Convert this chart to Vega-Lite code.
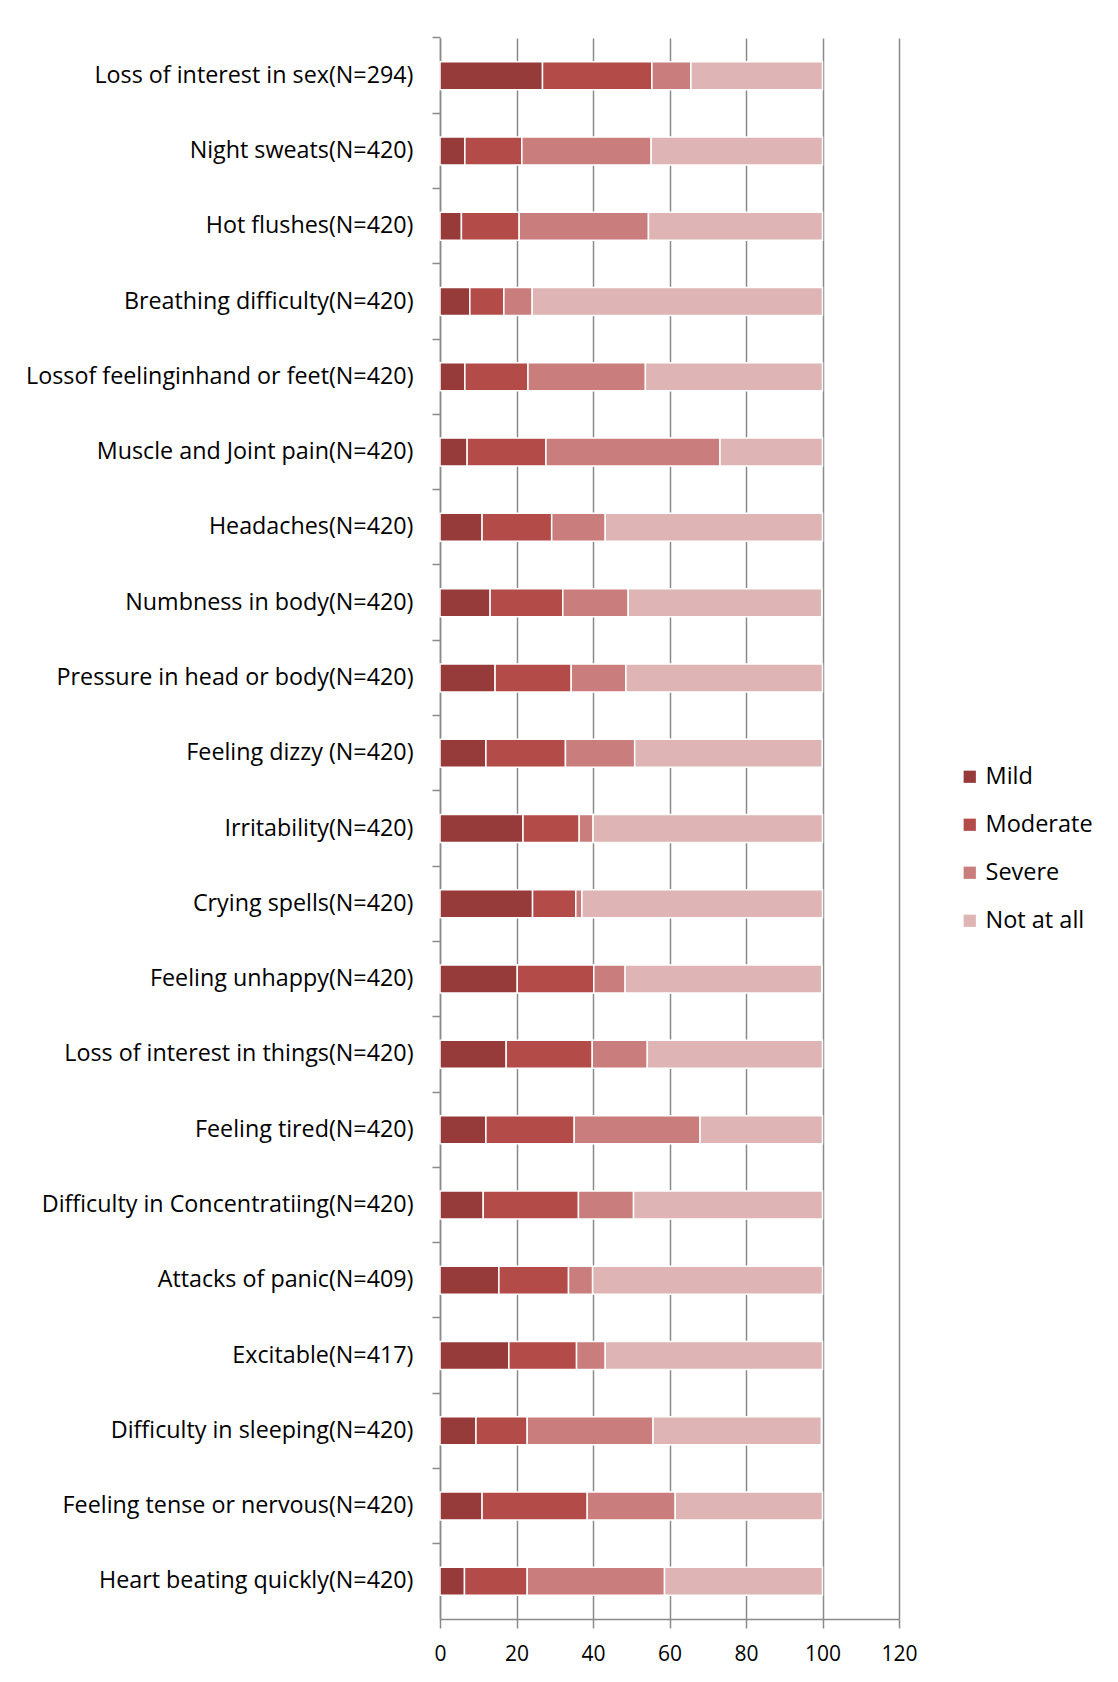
{
  "$schema": "https://vega.github.io/schema/vega-lite/v6.json",
  "autosize": {"type": "none"},
  "width": 459,
  "height": 1581,
  "padding": {"left": 440, "top": 38, "right": 219, "bottom": 63},
  "background": "white",
  "config": {
    "font": "Open Sans",
    "view": {"stroke": null},
    "axis": {"labelFont": "Open Sans", "labelColor": "#000000"}
  },
  "data": {
    "values": [
      {"s": "Loss of interest in sex(N=294)", "level": "Mild", "o": 1, "v": 26.8},
      {"s": "Loss of interest in sex(N=294)", "level": "Moderate", "o": 2, "v": 28.6},
      {"s": "Loss of interest in sex(N=294)", "level": "Severe", "o": 3, "v": 10.2},
      {"s": "Loss of interest in sex(N=294)", "level": "Not at all", "o": 4, "v": 34.4},
      {"s": "Night sweats(N=420)", "level": "Mild", "o": 1, "v": 6.5},
      {"s": "Night sweats(N=420)", "level": "Moderate", "o": 2, "v": 14.9},
      {"s": "Night sweats(N=420)", "level": "Severe", "o": 3, "v": 33.8},
      {"s": "Night sweats(N=420)", "level": "Not at all", "o": 4, "v": 44.8},
      {"s": "Hot flushes(N=420)", "level": "Mild", "o": 1, "v": 5.6},
      {"s": "Hot flushes(N=420)", "level": "Moderate", "o": 2, "v": 15.1},
      {"s": "Hot flushes(N=420)", "level": "Severe", "o": 3, "v": 33.8},
      {"s": "Hot flushes(N=420)", "level": "Not at all", "o": 4, "v": 45.5},
      {"s": "Breathing difficulty(N=420)", "level": "Mild", "o": 1, "v": 7.8},
      {"s": "Breathing difficulty(N=420)", "level": "Moderate", "o": 2, "v": 8.9},
      {"s": "Breathing difficulty(N=420)", "level": "Severe", "o": 3, "v": 7.4},
      {"s": "Breathing difficulty(N=420)", "level": "Not at all", "o": 4, "v": 75.9},
      {"s": "Lossof feelinginhand or feet(N=420)", "level": "Mild", "o": 1, "v": 6.5},
      {"s": "Lossof feelinginhand or feet(N=420)", "level": "Moderate", "o": 2, "v": 16.5},
      {"s": "Lossof feelinginhand or feet(N=420)", "level": "Severe", "o": 3, "v": 30.7},
      {"s": "Lossof feelinginhand or feet(N=420)", "level": "Not at all", "o": 4, "v": 46.3},
      {"s": "Muscle and Joint pain(N=420)", "level": "Mild", "o": 1, "v": 7.1},
      {"s": "Muscle and Joint pain(N=420)", "level": "Moderate", "o": 2, "v": 20.6},
      {"s": "Muscle and Joint pain(N=420)", "level": "Severe", "o": 3, "v": 45.5},
      {"s": "Muscle and Joint pain(N=420)", "level": "Not at all", "o": 4, "v": 26.8},
      {"s": "Headaches(N=420)", "level": "Mild", "o": 1, "v": 11.0},
      {"s": "Headaches(N=420)", "level": "Moderate", "o": 2, "v": 18.2},
      {"s": "Headaches(N=420)", "level": "Severe", "o": 3, "v": 14.0},
      {"s": "Headaches(N=420)", "level": "Not at all", "o": 4, "v": 56.8},
      {"s": "Numbness in body(N=420)", "level": "Mild", "o": 1, "v": 13.1},
      {"s": "Numbness in body(N=420)", "level": "Moderate", "o": 2, "v": 19.0},
      {"s": "Numbness in body(N=420)", "level": "Severe", "o": 3, "v": 17.1},
      {"s": "Numbness in body(N=420)", "level": "Not at all", "o": 4, "v": 50.6},
      {"s": "Pressure in head or body(N=420)", "level": "Mild", "o": 1, "v": 14.4},
      {"s": "Pressure in head or body(N=420)", "level": "Moderate", "o": 2, "v": 19.9},
      {"s": "Pressure in head or body(N=420)", "level": "Severe", "o": 3, "v": 14.3},
      {"s": "Pressure in head or body(N=420)", "level": "Not at all", "o": 4, "v": 51.4},
      {"s": "Feeling dizzy (N=420)", "level": "Mild", "o": 1, "v": 12.0},
      {"s": "Feeling dizzy (N=420)", "level": "Moderate", "o": 2, "v": 20.8},
      {"s": "Feeling dizzy (N=420)", "level": "Severe", "o": 3, "v": 18.1},
      {"s": "Feeling dizzy (N=420)", "level": "Not at all", "o": 4, "v": 49.0},
      {"s": "Irritability(N=420)", "level": "Mild", "o": 1, "v": 21.7},
      {"s": "Irritability(N=420)", "level": "Moderate", "o": 2, "v": 14.7},
      {"s": "Irritability(N=420)", "level": "Severe", "o": 3, "v": 3.6},
      {"s": "Irritability(N=420)", "level": "Not at all", "o": 4, "v": 60.0},
      {"s": "Crying spells(N=420)", "level": "Mild", "o": 1, "v": 24.2},
      {"s": "Crying spells(N=420)", "level": "Moderate", "o": 2, "v": 11.3},
      {"s": "Crying spells(N=420)", "level": "Severe", "o": 3, "v": 1.6},
      {"s": "Crying spells(N=420)", "level": "Not at all", "o": 4, "v": 62.9},
      {"s": "Feeling unhappy(N=420)", "level": "Mild", "o": 1, "v": 20.2},
      {"s": "Feeling unhappy(N=420)", "level": "Moderate", "o": 2, "v": 20.0},
      {"s": "Feeling unhappy(N=420)", "level": "Severe", "o": 3, "v": 8.2},
      {"s": "Feeling unhappy(N=420)", "level": "Not at all", "o": 4, "v": 51.4},
      {"s": "Loss of interest in things(N=420)", "level": "Mild", "o": 1, "v": 17.3},
      {"s": "Loss of interest in things(N=420)", "level": "Moderate", "o": 2, "v": 22.5},
      {"s": "Loss of interest in things(N=420)", "level": "Severe", "o": 3, "v": 14.4},
      {"s": "Loss of interest in things(N=420)", "level": "Not at all", "o": 4, "v": 45.8},
      {"s": "Feeling tired(N=420)", "level": "Mild", "o": 1, "v": 12.0},
      {"s": "Feeling tired(N=420)", "level": "Moderate", "o": 2, "v": 23.1},
      {"s": "Feeling tired(N=420)", "level": "Severe", "o": 3, "v": 32.9},
      {"s": "Feeling tired(N=420)", "level": "Not at all", "o": 4, "v": 32.0},
      {"s": "Difficulty in Concentratiing(N=420)", "level": "Mild", "o": 1, "v": 11.3},
      {"s": "Difficulty in Concentratiing(N=420)", "level": "Moderate", "o": 2, "v": 24.9},
      {"s": "Difficulty in Concentratiing(N=420)", "level": "Severe", "o": 3, "v": 14.4},
      {"s": "Difficulty in Concentratiing(N=420)", "level": "Not at all", "o": 4, "v": 49.4},
      {"s": "Attacks of panic(N=409)", "level": "Mild", "o": 1, "v": 15.4},
      {"s": "Attacks of panic(N=409)", "level": "Moderate", "o": 2, "v": 18.2},
      {"s": "Attacks of panic(N=409)", "level": "Severe", "o": 3, "v": 6.3},
      {"s": "Attacks of panic(N=409)", "level": "Not at all", "o": 4, "v": 60.1},
      {"s": "Excitable(N=417)", "level": "Mild", "o": 1, "v": 18.0},
      {"s": "Excitable(N=417)", "level": "Moderate", "o": 2, "v": 17.7},
      {"s": "Excitable(N=417)", "level": "Severe", "o": 3, "v": 7.5},
      {"s": "Excitable(N=417)", "level": "Not at all", "o": 4, "v": 56.8},
      {"s": "Difficulty in sleeping(N=420)", "level": "Mild", "o": 1, "v": 9.4},
      {"s": "Difficulty in sleeping(N=420)", "level": "Moderate", "o": 2, "v": 13.4},
      {"s": "Difficulty in sleeping(N=420)", "level": "Severe", "o": 3, "v": 32.9},
      {"s": "Difficulty in sleeping(N=420)", "level": "Not at all", "o": 4, "v": 44.0},
      {"s": "Feeling tense or nervous(N=420)", "level": "Mild", "o": 1, "v": 11.0},
      {"s": "Feeling tense or nervous(N=420)", "level": "Moderate", "o": 2, "v": 27.5},
      {"s": "Feeling tense or nervous(N=420)", "level": "Severe", "o": 3, "v": 23.0},
      {"s": "Feeling tense or nervous(N=420)", "level": "Not at all", "o": 4, "v": 38.5},
      {"s": "Heart beating quickly(N=420)", "level": "Mild", "o": 1, "v": 6.4},
      {"s": "Heart beating quickly(N=420)", "level": "Moderate", "o": 2, "v": 16.4},
      {"s": "Heart beating quickly(N=420)", "level": "Severe", "o": 3, "v": 35.9},
      {"s": "Heart beating quickly(N=420)", "level": "Not at all", "o": 4, "v": 41.3}
    ]
  },
  "mark": {"type": "bar", "height": 28, "stroke": "white", "strokeWidth": 1.5},
  "encoding": {
    "y": {
      "field": "s",
      "type": "nominal",
      "sort": null,
      "scale": {"paddingInner": 0, "paddingOuter": 0},
      "axis": {
        "title": null,
        "bandPosition": 0,
        "labelFontSize": 23.3,
        "labelLimit": 0,
        "labelPadding": 19,
        "tickSize": 8,
        "tickColor": "#8a8a8a",
        "tickWidth": 1.5,
        "domainColor": "#8a8a8a",
        "domainWidth": 1.5,
        "grid": false,
        "labelBound": false
      }
    },
    "x": {
      "field": "v",
      "type": "quantitative",
      "stack": "zero",
      "scale": {"domain": [0, 120], "nice": false, "zero": true},
      "axis": {
        "title": null,
        "values": [0, 20, 40, 60, 80, 100, 120],
        "labelFontSize": 21,
        "labelPadding": 15,
        "tickSize": 9,
        "tickColor": "#8a8a8a",
        "tickWidth": 1.5,
        "domainColor": "#8a8a8a",
        "domainWidth": 1.5,
        "grid": true,
        "gridColor": "#8a8a8a",
        "gridWidth": 1.5,
        "gridOpacity": 1,
        "labelFlush": false
      }
    },
    "order": {"field": "o", "type": "quantitative"},
    "color": {
      "field": "level",
      "type": "nominal",
      "scale": {
        "domain": ["Mild", "Moderate", "Severe", "Not at all"],
        "range": ["#963b3a", "#b34b49", "#c97d7d", "#deb4b4"]
      },
      "legend": {
        "title": null,
        "orient": "none",
        "legendX": 518,
        "legendY": 727,
        "symbolType": "square",
        "symbolSize": 150,
        "symbolStrokeWidth": 0,
        "labelFontSize": 23.5,
        "labelFont": "Open Sans",
        "labelColor": "#000000",
        "rowPadding": 23,
        "labelOffset": 4
      }
    }
  }
}
